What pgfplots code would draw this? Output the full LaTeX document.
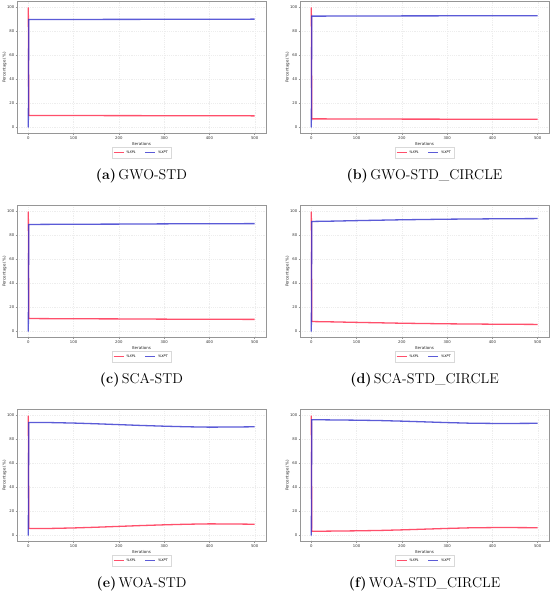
\documentclass[border=0pt]{standalone}
\usepackage{fontspec}
\usepackage{pgfplots}
\pgfplotsset{compat=1.18}
\newfontfamily\dv{DejaVu Sans}
\definecolor{xpl}{RGB}{255,35,70}
\definecolor{xpt}{RGB}{50,50,205}
\definecolor{fr}{RGB}{150,150,150}
\pgfplotsset{panel/.style={
  scale only axis, width=249pt, height=132pt, clip=false,
  xmin=-25, xmax=525, ymin=-5, ymax=105,
  xtick={0,100,200,300,400,500}, ytick={0,20,40,60,80,100},
  grid=major, major grid style={gray!14, dash pattern=on 1.2pt off 1pt, line width=0.3pt},
  axis line style={fr, line width=0.6pt},
  tick style={fr, line width=0.4pt}, tick align=outside, major tick length=1.5pt,
  xtick pos=lower, ytick pos=left,
  tick label style={font=\dv\fontsize{3.8}{4.2}\selectfont, text=black!80, inner sep=1pt},
  /pgf/number format/assume math mode=true,
  xlabel={Iterations}, ylabel={Percentage (\%)},
  label style={font=\dv\fontsize{4}{4.6}\selectfont, text=black!85},
  xlabel style={at={(axis description cs:0.5,-0.083)}, anchor=center},
  ylabel style={at={(axis description cs:-0.05,0.5)}, anchor=center},
  legend style={at={(0.5,-0.105)}, anchor=north, legend columns=2,
    font=\dv\fontsize{3.4}{4}\selectfont, draw=gray!30, inner sep=1.2pt,
    /tikz/every even column/.append style={column sep=7pt}},
  legend image code/.code={\draw[##1] (0pt,0pt) -- (10pt,0pt);},
  every axis plot/.append style={line width=1.3pt, opacity=0.8, mark=none},
}}
\newcommand{\subcap}[2]{\node[font=\fontsize{14.2}{16}\selectfont, inner sep=0pt] at (rel axis cs:0.5,-0.318) {\textbf{(#1)}\,#2};}
\begin{document}
\begin{tikzpicture}
\path[use as bounding box] (0pt,0pt) rectangle (550pt,-591pt);
% (a)
\begin{axis}[panel, at={(17pt,-1.5pt)}, anchor=north west]
\addplot[xpl] coordinates {(0,100) (1,10.0) (100,9.95) (200,9.9) (300,9.85) (400,9.8) (500,9.7)};
\addplot[xpt] coordinates {(0,0) (1,90.0) (100,90.05) (200,90.1) (300,90.15) (400,90.2) (500,90.3)};
\legend{\textit{\%XPL}, \textit{\%XPT}}
\subcap{a}{GWO-STD}
\end{axis}
% (b)
\begin{axis}[panel, at={(300pt,-1.5pt)}, anchor=north west]
\addplot[xpl] coordinates {(0,100) (1,7.2) (100,7.1) (200,7.0) (300,6.95) (400,6.9) (500,6.8)};
\addplot[xpt] coordinates {(0,0) (1,92.8) (100,92.9) (200,93.0) (300,93.05) (400,93.1) (500,93.2)};
\legend{\textit{\%XPL}, \textit{\%XPT}}
\subcap{b}{GWO-STD\_CIRCLE}
\end{axis}
% (c)
\begin{axis}[panel, at={(17pt,-205.5pt)}, anchor=north west]
\addplot[xpl] coordinates {(0,100) (1,10.8) (100,10.6) (200,10.5) (300,10.3) (400,10.2) (500,10.1)};
\addplot[xpt] coordinates {(0,0) (1,89.2) (100,89.4) (200,89.5) (300,89.7) (400,89.8) (500,89.9)};
\legend{\textit{\%XPL}, \textit{\%XPT}}
\subcap{c}{SCA-STD}
\end{axis}
% (d)
\begin{axis}[panel, at={(300pt,-205.5pt)}, anchor=north west]
\addplot[xpl] coordinates {(0,100) (1,8.3) (50,8.0) (100,7.6) (200,6.9) (300,6.4) (400,6.1) (500,5.9)};
\addplot[xpt] coordinates {(0,0) (1,91.7) (50,92.0) (100,92.4) (200,93.1) (300,93.6) (400,93.9) (500,94.1)};
\legend{\textit{\%XPL}, \textit{\%XPT}}
\subcap{d}{SCA-STD\_CIRCLE}
\end{axis}
% (e)
\begin{axis}[panel, at={(17pt,-409.5pt)}, anchor=north west]
\addplot[xpl] coordinates {(0,100) (1,5.8) (50,5.9) (100,6.3) (150,6.9) (200,7.6) (250,8.3) (300,8.9) (350,9.4) (400,9.7) (450,9.6) (500,9.4)};
\addplot[xpt] coordinates {(0,0) (1,94.2) (50,94.1) (100,93.7) (150,93.1) (200,92.4) (250,91.7) (300,91.1) (350,90.6) (400,90.3) (450,90.4) (500,90.6)};
\legend{\textit{\%XPL}, \textit{\%XPT}}
\subcap{e}{WOA-STD}
\end{axis}
% (f)
\begin{axis}[panel, at={(300pt,-409.5pt)}, anchor=north west]
\addplot[xpl] coordinates {(0,100) (1,3.5) (100,3.9) (150,4.2) (200,4.7) (250,5.3) (300,5.9) (350,6.4) (400,6.6) (450,6.6) (500,6.5)};
\addplot[xpt] coordinates {(0,0) (1,96.5) (100,96.1) (150,95.8) (200,95.3) (250,94.7) (300,94.1) (350,93.6) (400,93.4) (450,93.4) (500,93.5)};
\legend{\textit{\%XPL}, \textit{\%XPT}}
\subcap{f}{WOA-STD\_CIRCLE}
\end{axis}
\end{tikzpicture}
\end{document}
